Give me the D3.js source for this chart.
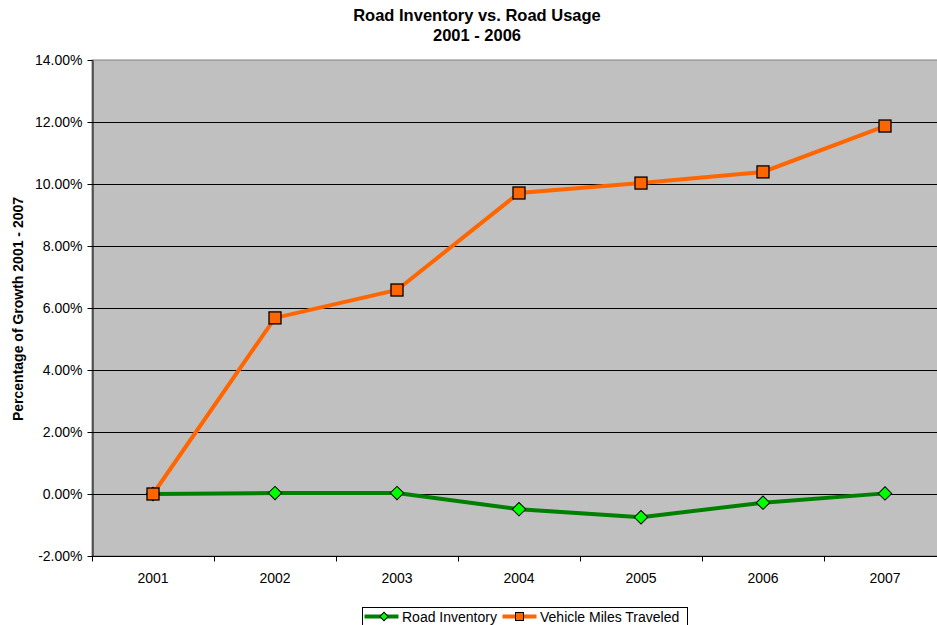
<!DOCTYPE html>
<meta charset="utf-8">
<script src="https://d3js.org/d3.v7.min.js"></script>
<style>
  body { margin: 0; background: #fff; }
  svg { font-family: "Liberation Sans", Arial, sans-serif; }
</style>
<div id="chart"></div>
<script>
// data
var years = ["2001", "2002", "2003", "2004", "2005", "2006", "2007"];
var roadInventory = [0, 0.03, 0.03, -0.49, -0.75, -0.28, 0.02];
var vehicleMiles = [0, 5.68, 6.58, 9.71, 10.03, 10.39, 11.87];
var yTicks = [-2, 0, 2, 4, 6, 8, 10, 12, 14];

var W = 937, H = 625;
var margin = { top: 60, left: 92, bottom: 69, right: -9 };
var width = W - margin.left - margin.right,
    height = H - margin.top - margin.bottom;

var svg = d3.select("#chart").append("svg")
    .attr("width", W).attr("height", H);

// titles
svg.append("text").attr("x", 477).attr("y", 21).attr("text-anchor", "middle")
    .style("font-weight", "bold").style("font-size", "16.5px")
    .text("Road Inventory vs. Road Usage");
svg.append("text").attr("x", 477).attr("y", 41).attr("text-anchor", "middle")
    .style("font-weight", "bold").style("font-size", "16.5px")
    .text("2001 - 2006");

var g = svg.append("g").attr("transform", "translate(" + margin.left + "," + margin.top + ")");

var x = d3.scaleBand().domain(years).range([0, width]);
var y = d3.scaleLinear().domain([-2, 14]).range([height, 0]);

// plot area
g.append("rect").attr("width", width).attr("height", height)
    .attr("fill", "#c0c0c0").attr("stroke", "#808080");

// gridlines
g.selectAll(".grid").data(yTicks.slice(1, -1)).enter().append("line")
    .attr("x1", 0).attr("x2", width)
    .attr("y1", d => Math.round(y(d)) + 0.5).attr("y2", d => Math.round(y(d)) + 0.5)
    .attr("stroke", "#000").attr("stroke-width", 1);

// y axis
var yAxis = g.append("g").attr("transform", "translate(0.5,0)")
    .call(d3.axisLeft(y).tickValues(yTicks).tickSize(5).tickSizeOuter(0)
        .tickFormat(d => d.toFixed(2) + "%"));
yAxis.selectAll("text").style("font-size", "14px").attr("fill", "#000").attr("x", -10);
yAxis.select(".domain").attr("stroke", "#000");

// x axis with ticks between categories
var xAxis = g.append("g").attr("transform", "translate(0," + (height + 0.5) + ")");
xAxis.append("line").attr("x1", 0).attr("x2", width).attr("stroke", "#000");
xAxis.selectAll(".tk").data(d3.range(years.length + 1)).enter().append("line")
    .attr("x1", i => Math.round(i * x.step()) + 0.5).attr("x2", i => Math.round(i * x.step()) + 0.5)
    .attr("y1", 0).attr("y2", 5).attr("stroke", "#000");
xAxis.selectAll(".lbl").data(years).enter().append("text")
    .attr("x", d => x(d) + x.bandwidth() / 2).attr("y", 26)
    .attr("text-anchor", "middle").style("font-size", "14px").text(d => d);

// y axis title
svg.append("text")
    .attr("transform", "translate(23," + 309 + ") rotate(-90)")
    .attr("text-anchor", "middle").style("font-weight", "bold").style("font-size", "14px")
    .text("Percentage of Growth 2001 - 2007");

var cx = d => x(d) + x.bandwidth() / 2;
var line = d3.line().x(d => cx(d.year)).y(d => y(d.v));

var seriesRoad = years.map((yr, i) => ({ year: yr, v: roadInventory[i] }));
var seriesVmt = years.map((yr, i) => ({ year: yr, v: vehicleMiles[i] }));

g.append("path").datum(seriesRoad).attr("d", line)
    .attr("fill", "none").attr("stroke", "#008000").attr("stroke-width", 4);
g.append("path").datum(seriesVmt).attr("d", line)
    .attr("fill", "none").attr("stroke", "#ff6600").attr("stroke-width", 4);

var diamond = d3.symbol().type(d3.symbolSquare).size(90);
g.selectAll(".dia").data(seriesRoad).enter().append("path")
    .attr("d", diamond)
    .attr("transform", d => "translate(" + cx(d.year) + "," + y(d.v) + ") rotate(45)")
    .attr("fill", "#00ff00").attr("stroke", "#000").attr("stroke-width", 1);
g.selectAll(".sq").data(seriesVmt).enter().append("rect")
    .attr("x", d => cx(d.year) - 6).attr("y", d => y(d.v) - 6)
    .attr("width", 12).attr("height", 12)
    .attr("fill", "#ff6600").attr("stroke", "#000").attr("stroke-width", 1.3);

// legend
var leg = svg.append("g").attr("transform", "translate(362.5,607.5)");
leg.append("rect").attr("width", 325).attr("height", 25).attr("fill", "#fff").attr("stroke", "#000");
leg.append("line").attr("x1", 2).attr("x2", 36).attr("y1", 9).attr("y2", 9)
    .attr("stroke", "#008000").attr("stroke-width", 4);
leg.append("path").attr("d", d3.symbol().type(d3.symbolSquare).size(36))
    .attr("transform", "translate(21.5,9) rotate(45)")
    .attr("fill", "#00ff00").attr("stroke", "#000");
leg.append("text").attr("x", 39.5).attr("y", 14.5).style("font-size", "14px").text("Road Inventory");
leg.append("line").attr("x1", 140).attr("x2", 174).attr("y1", 9).attr("y2", 9)
    .attr("stroke", "#ff6600").attr("stroke-width", 4);
leg.append("rect").attr("x", 153).attr("y", 5).attr("width", 8).attr("height", 8)
    .attr("fill", "#ff6600").attr("stroke", "#000");
leg.append("text").attr("x", 177.5).attr("y", 14.5).style("font-size", "14px").text("Vehicle Miles Traveled");
</script>
